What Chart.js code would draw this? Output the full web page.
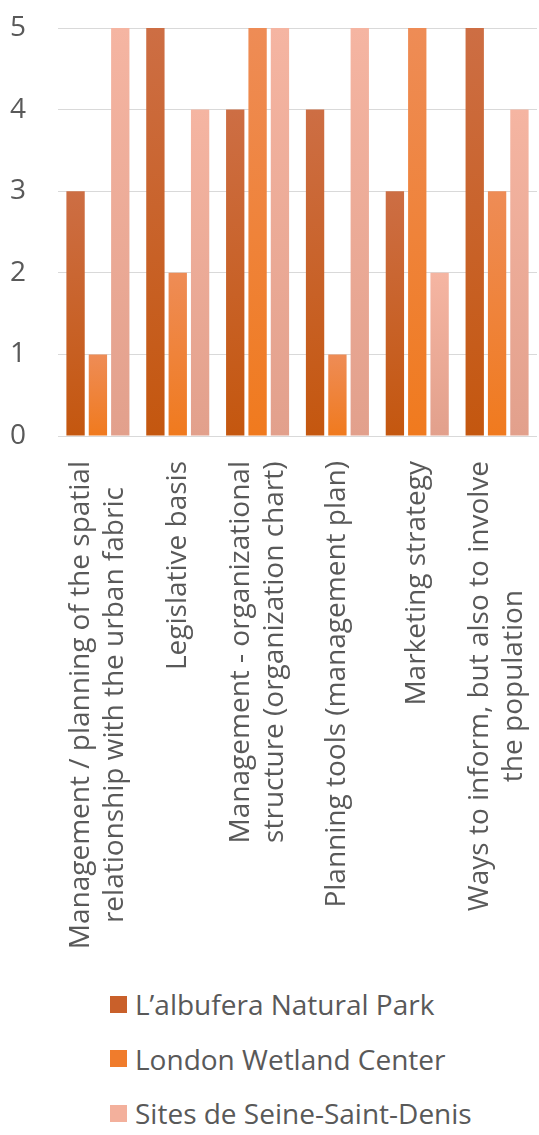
<!DOCTYPE html>
<html>
<head>
<meta charset="utf-8">
<script src="https://cdn.jsdelivr.net/npm/chart.js@4"></script>
<style>
  html, body { margin: 0; padding: 0; background: #fff; }
  #wrap { position: relative; width: 539px; height: 1135px; }
  #chart { position: absolute; left: 0; top: 0; }
  #legend { position: absolute; left: 110px; top: 977px; font-family: "Open Sans", sans-serif; font-size: 28px; color: #595959; }
  #legend .item { height: 54.5px; display: flex; align-items: center; white-space: nowrap; }
  #legend .box { width: 17px; height: 17px; margin-right: 8px; flex: none; }
</style>
</head>
<body>
<div id="wrap">
  <canvas id="chart" width="539" height="975"></canvas>
  <div id="legend"></div>
</div>
<script>
// categorias (cada una partida en lineas como en el original)
const categorias = [
  ['Management / planning of the spatial', 'relationship with the urban fabric'],
  ['Legislative basis'],
  ['Management - organizational', 'structure (organization chart)'],
  ['Planning tools (management plan)'],
  ['Marketing strategy'],
  ['Ways to inform, but also to involve', 'the population'],
];

const albufera = [3, 5, 4, 4, 3, 5];
const london   = [1, 2, 5, 1, 5, 3];
const seine    = [5, 4, 5, 5, 2, 4];

const yTicks = [0, 1, 2, 3, 4, 5];

const FONT = '"Open Sans", sans-serif';
const TEXT = '#595959';

// degradado vertical por barra (oscuro abajo, claro arriba)
function degradado(abajo, arriba) {
  return ctx => {
    const chart = ctx.chart;
    const y = chart.scales && chart.scales.y;
    if (!y || ctx.raw == null) return abajo;
    const y0 = y.getPixelForValue(0);
    const y1 = y.getPixelForValue(ctx.raw);
    if (!isFinite(y0) || !isFinite(y1) || y0 === y1) return abajo;
    const g = chart.ctx.createLinearGradient(0, y0, 0, y1);
    g.addColorStop(0, abajo);
    g.addColorStop(1, arriba);
    return g;
  };
}

// etiquetas del eje x giradas, con las lineas centradas entre si
const etiquetasX = {
  id: 'etiquetasX',
  afterDraw(chart) {
    const sc = chart.scales.x;
    const c = chart.ctx;
    const lh = 34;
    c.save();
    c.font = '28px ' + FONT;
    c.fillStyle = TEXT;
    c.textAlign = 'center';
    c.textBaseline = 'middle';
    categorias.forEach((lineas, i) => {
      const x = sc.getPixelForTick(i);
      const ancho = Math.max(...lineas.map(l => c.measureText(l).width));
      c.save();
      c.translate(x, sc.top + 25);
      c.rotate(-Math.PI / 2);
      lineas.forEach((l, k) => {
        c.fillText(l, -ancho / 2, (k - (lineas.length - 1) / 2) * lh);
      });
      c.restore();
    });
    c.restore();
  }
};

const chart = new Chart(document.getElementById('chart'), {
  type: 'bar',
  data: {
    labels: categorias,
    datasets: [
      { label: 'L\u2019albufera Natural Park', data: albufera, backgroundColor: degradado('#c4570f', '#cd6e44'), legendColor: '#c9602a' },
      { label: 'London Wetland Center', data: london, backgroundColor: degradado('#f07a1e', '#ee8c56'), legendColor: '#f07c2c' },
      { label: 'Sites de Seine-Saint-Denis', data: seine, backgroundColor: degradado('#e2a08c', '#f5b5a2'), legendColor: '#f3b09c' },
    ]
  },
  options: {
    responsive: false,
    animation: false,
    layout: { padding: { top: 28, right: 2, left: 0, bottom: 0 } },
    datasets: { bar: { categoryPercentage: 0.84, barPercentage: 0.82 } },
    plugins: {
      legend: { display: false },
      tooltip: { enabled: false }
    },
    scales: {
      x: {
        grid: { display: false },
        border: { display: false },
        ticks: { display: false },
        afterFit: s => { s.height = 975 - 436; }
      },
      y: {
        min: 0, max: 5,
        afterBuildTicks: s => { s.ticks = yTicks.map(v => ({ value: v })); },
        grid: { color: '#d9d9d9', lineWidth: 1, drawTicks: false },
        border: { display: false },
        ticks: { color: TEXT, font: { family: FONT, size: 28 }, padding: 32 },
        afterFit: s => { s.width = 58; s.paddingTop = 0; s.paddingBottom = 0; }
      }
    }
  },
  plugins: [etiquetasX]
});

// leyenda en HTML, una fila por serie
const leyenda = document.getElementById('legend');
chart.data.datasets.forEach(ds => {
  const fila = document.createElement('div');
  fila.className = 'item';
  fila.innerHTML = `<span class="box" style="background:${ds.legendColor}"></span><span>${ds.label}</span>`;
  leyenda.appendChild(fila);
});
</script>
</body>
</html>
